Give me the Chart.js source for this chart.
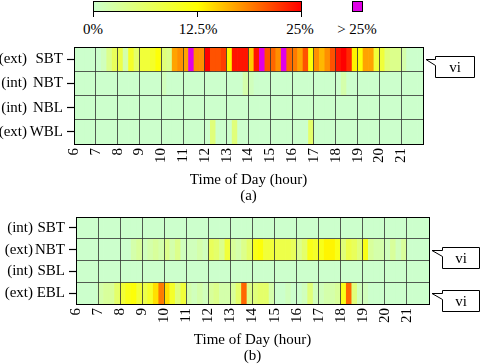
<!DOCTYPE html>
<html>
<head>
<meta charset="utf-8">
<script src="https://cdn.jsdelivr.net/npm/chart.js@4/dist/chart.umd.min.js"></script>
<style>
  body { margin: 0; width: 481px; height: 364px; background: #fff; position: relative; overflow: hidden;
         font-family: 'Liberation Serif', 'Times New Roman', serif; color: #000; }
  canvas { position: absolute; left: 0; }
  #chartA { top: 34px; }
  #chartB { top: 204px; }
  .cbar { position: absolute; left: 93px; top: 1px; width: 209px; height: 11px; box-sizing: border-box; border: 1px solid #000; }
  .tick { position: absolute; top: 11px; width: 1px; height: 6px; background: #000; }
  .lbl { position: absolute; top: 20px; font-size: 15px; line-height: 18px; transform: translateX(-50%); white-space: nowrap; }
  .over { position: absolute; left: 352px; top: 1px; width: 11px; height: 11px; box-sizing: border-box; border: 1px solid #000; }
</style>
</head>
<body>
<div class="cbar" id="cbar"></div>
<div class="tick" style="left:93px"></div>
<div class="tick" style="left:197px"></div>
<div class="tick" style="left:301px"></div>
<div class="lbl" style="left:93px">0%</div>
<div class="lbl" style="left:198px">12.5%</div>
<div class="lbl" style="left:300px">25%</div>
<div class="over" id="overBox"></div>
<div class="lbl" style="left:357px">&gt; 25%</div>

<canvas id="chartA" width="481" height="170"></canvas>
<canvas id="chartB" width="481" height="160"></canvas>

<script>
// Axis ticks (hours) and colour scale
const hours = [6, 7, 8, 9, 10, 11, 12, 13, 14, 15, 16, 17, 18, 19, 20, 21, 22];
const scaleStops = [0, 12.5, 25];
const stopColors = [[204, 255, 204], [255, 255, 0], [255, 0, 0]];
const overColor = '#e000e6';

// Panel (a) rows
const rowsA = ['SBT', 'NBT', 'NBL', 'WBL'];
const prefixA = ['(ext)', '(int)', '(int)', '(ext)'];
// Panel (b) rows
const rowsB = ['SBT', 'NBT', 'SBL', 'EBL'];
const prefixB = ['(int)', '(ext)', '(int)', '(ext)'];

// 15 minute bins from 6:00 to 22:00, values in %
const aSBT = [
  0, 0, 0, 0,   0, 1, 4, 7,   8, 2, 10, 6,   9, 9, 10, 12,
  5, 4, 17, 18,   17, 30, 18, 18,   25, 21, 21, 22,   13, 24, 24, 24,
  15, 24, 28, 21,   20, 18, 30, 20,   19, 17, 21, 12,   18, 16, 18, 21,
  24, 25, 23, 13,   12, 17, 17, 9,   9, 5, 4, 4,   2, 0, 0, 0
];
const aNBT = [
  0, 0, 0, 0,   0, 0, 0, 0,   0, 0, 0, 0,   0, 0, 0, 0,
  1, 0, 0, 0,   0, 0, 0, 0,   0, 0, 0, 0,   0, 0, 0, 2,
  1, 0, 0, 0,   0, 0, 0, 0,   0, 0, 0, 0,   0, 0, 0, 0,
  0, 2, 0, 0,   0, 0, 0, 0,   0, 0, 0, 0,   0, 0, 0, 0
];
const aNBL = [
  0, 0, 0, 0,   0, 0, 0, 0,   0, 0, 0, 0,   0, 0, 0, 0,
  0, 0, 0, 0,   0, 0, 0, 0,   0, 0, 0, 0,   0, 0, 0, 0,
  0, 0, 0, 0,   0, 0, 0, 0,   0, 0, 0, 0,   0, 0, 0, 0,
  0, 0, 0, 0,   0, 0, 0, 0,   0, 0, 0, 0,   0, 0, 0, 0
];
const aWBL = [
  0, 0, 0, 0,   0, 0, 0, 0,   0, 0, 0, 0,   0, 0, 0, 0,
  0, 0, 0, 0,   0, 0, 0, 0,   0, 5, 0, 0,   0, 5, 0, 0,
  0, 0, 0, 0,   0, 0, 0, 0,   0, 0, 0, 6,   0, 0, 0, 0,
  0, 0, 0, 0,   0, 0, 0, 0,   0, 0, 0, 0,   0, 0, 0, 0
];
const bSBT = [
  0, 0, 0, 0,   0, 0, 0, 0,   0, 0, 0, 0,   0, 0, 0, 0,
  0, 0, 0, 0,   0, 0, 0, 0,   0, 0, 0, 0,   0, 0, 0, 0,
  0, 0, 0, 0,   0, 0, 0, 0,   0, 0, 0, 0,   0, 0, 0, 0,
  0, 0, 0, 0,   0, 0, 0, 0,   0, 0, 0, 0,   0, 0, 0, 0
];
const bNBT = [
  0, 0, 0, 0,   0, 0, 0, 0,   0, 0, 2, 3,   1, 2, 3, 2,
  4, 2, 4, 1,   1, 1, 2, 1,   7, 6, 4, 9,   3, 2, 4, 6,
  11, 12, 9, 9,   8, 8, 8, 7,   4, 6, 11, 10,   11, 13, 13, 11,
  5, 8, 7, 5,   11, 3, 2, 2,   1, 3, 1, 3,   0, 0, 0, 0
];
const bSBL = [
  0, 0, 0, 0,   0, 0, 0, 0,   0, 0, 0, 0,   0, 0, 0, 0,
  0, 0, 0, 0,   0, 0, 0, 0,   0, 0, 0, 0,   0, 0, 0, 0,
  0, 0, 0, 0,   0, 0, 0, 0,   0, 0, 0, 0,   0, 0, 0, 0,
  0, 0, 0, 0,   0, 0, 0, 0,   0, 0, 0, 0,   0, 0, 0, 0
];
const bEBL = [
  0, 0, 0, 0,   2, 3, 3, 6,   9, 11, 12, 9,   8, 10, 14, 19,
  14, 10, 5, 9,   2, 1, 2, 1,   3, 4, 2, 2,   3, 6, 20, 4,
  5, 6, 6, 2,   0, 0, 1, 0,   0, 1, 5, 1,   1, 2, 2, 3,
  11, 20, 5, 1,   1, 0, 0, 0,   0, 0, 0, 0,   0, 0, 0, 0
];

const binHours = 0.25;
const serif = "'Liberation Serif', 'Times New Roman', serif";
const gridColor = 'rgba(50, 50, 50, 0.8)';

Chart.defaults.color = '#000';
Chart.defaults.font.family = serif;
Chart.defaults.font.size = 15;

function rgb(c) {
    return 'rgb(' + c.map(Math.round).join(',') + ')';
}

function heatColor(v) {
    if (v > scaleStops[scaleStops.length - 1]) return overColor;
    for (let i = 1; i < scaleStops.length; i++) {
        if (v <= scaleStops[i]) {
            const t = Math.max(0, (v - scaleStops[i - 1]) / (scaleStops[i] - scaleStops[i - 1]));
            const a = stopColors[i - 1], b = stopColors[i];
            return rgb(a.map((x, k) => x + (b[k] - x) * t));
        }
    }
    return rgb(stopColors[0]);
}

// Legend colour bar
document.getElementById('cbar').style.background = 'linear-gradient(to right, ' +
    stopColors.map((c, i) => rgb(c) + ' ' + (scaleStops[i] / scaleStops[scaleStops.length - 1] * 100) + '%').join(', ') + ')';
document.getElementById('overBox').style.background = overColor;

// Black frame round the plot area
const framePlugin = {
    id: 'frame',
    afterDraw(chart) {
        const {ctx, chartArea: a} = chart;
        ctx.save();
        ctx.strokeStyle = '#000';
        ctx.lineWidth = 1;
        ctx.strokeRect(Math.round(a.left) + 0.5, Math.round(a.top) + 0.5,
            Math.round(a.right - a.left), Math.round(a.bottom - a.top));
        ctx.restore();
    }
};

// "vi" speech bubbles to the right of marked rows
const calloutPlugin = {
    id: 'callouts',
    afterDraw(chart, args, opts) {
        const {ctx, chartArea, scales} = chart;
        (opts.rows || []).forEach(row => {
            const cy = scales.y.getPixelForValue(row);
            const tipX = chartArea.right + opts.tip;
            const tipY = Math.round(cy) + 0.5;
            const bx = Math.round(chartArea.right + opts.gap) + 0.5;
            const by = Math.round(cy - 3) + 0.5;
            const w = opts.width, h = 21;
            ctx.save();
            ctx.beginPath();
            ctx.moveTo(bx, by);
            ctx.lineTo(bx + w, by);
            ctx.lineTo(bx + w, by + h);
            ctx.lineTo(bx, by + h);
            ctx.lineTo(bx, by + 9);
            ctx.lineTo(tipX, tipY);
            ctx.lineTo(bx, by + 3);
            ctx.closePath();
            ctx.fillStyle = '#fff';
            ctx.fill();
            ctx.strokeStyle = '#000';
            ctx.lineWidth = 1;
            ctx.stroke();
            ctx.fillStyle = '#000';
            ctx.font = '15px ' + serif;
            ctx.textAlign = 'center';
            ctx.textBaseline = 'middle';
            ctx.fillText(opts.text, bx + w / 2, by + h / 2 + 1);
            ctx.restore();
        });
    }
};

function rowDataset(name, values) {
    return {
        data: values.map((v, i) => ({x: [hours[0] + i * binHours, hours[0] + (i + 1) * binHours], y: name, v: v})),
        backgroundColor: c => heatColor(c.raw ? c.raw.v : 0),
        borderWidth: 0,
        grouped: false,
        categoryPercentage: 1,
        barPercentage: 1
    };
}

function buildPanel(canvasId, rows, prefixes, series, cfg) {
    return new Chart(document.getElementById(canvasId), {
        type: 'bar',
        data: {
            labels: rows,
            datasets: rows.map((name, i) => rowDataset(name, series[i]))
        },
        plugins: [framePlugin, calloutPlugin],
        options: {
            responsive: false,
            animation: false,
            indexAxis: 'y',
            layout: {padding: {top: cfg.top, right: cfg.right, left: 0, bottom: 0}},
            plugins: {
                legend: {display: false},
                tooltip: {enabled: false},
                callouts: {rows: cfg.callouts, text: 'vi', tip: 3, gap: cfg.gap, width: cfg.boxWidth}
            },
            scales: {
                x: {
                    type: 'linear',
                    min: hours[0],
                    max: hours[hours.length - 1],
                    afterBuildTicks: s => { s.ticks = hours.map(h => ({value: h})); },
                    afterFit: s => { s.height = cfg.xHeight; },
                    grid: {color: gridColor, drawTicks: false, z: 1},
                    border: {display: false},
                    ticks: {
                        autoSkip: false,
                        minRotation: 90,
                        maxRotation: 90,
                        padding: 4,
                        callback: v => (v === hours[hours.length - 1] ? '' : String(v))
                    },
                    title: {
                        display: true,
                        text: ['Time of Day (hour)', cfg.caption],
                        font: {size: 15, lineHeight: 1.07},
                        padding: {top: 0, bottom: cfg.titlePad}
                    }
                },
                y: {
                    type: 'category',
                    offset: true,
                    afterFit: s => { s.width = 0; },
                    grid: {offset: true, color: gridColor, drawTicks: false, z: 1},
                    border: {display: false},
                    ticks: {display: false}
                },
                // row names with their tick marks
                yNames: {
                    type: 'category',
                    position: 'left',
                    labels: rows,
                    offset: true,
                    weight: 1,
                    afterFit: s => { s.width = cfg.namesWidth; },
                    grid: {offset: false, drawOnChartArea: false, color: '#000', tickLength: 7, tickWidth: 1.2, z: 1},
                    border: {display: false},
                    ticks: {padding: 4}
                },
                // (ext) / (int) column
                yPrefix: {
                    type: 'category',
                    position: 'left',
                    labels: prefixes,
                    offset: true,
                    weight: 2,
                    afterFit: s => { s.width = cfg.prefixWidth; },
                    grid: {display: false, drawTicks: false},
                    border: {display: false},
                    ticks: {padding: 1}
                }
            }
        }
    });
}

buildPanel('chartA', rowsA, prefixA, [aSBT, aNBT, aNBL, aWBL], {
    top: 12, right: 58, xHeight: 60, caption: '(a)', titlePad: 0,
    namesWidth: 46, prefixWidth: 28, callouts: [0], gap: 12, boxWidth: 39
});
buildPanel('chartB', rowsB, prefixB, [bSBT, bNBT, bSBL, bEBL], {
    top: 2, right: 52, xHeight: 60, caption: '(b)', titlePad: 0,
    namesWidth: 42, prefixWidth: 34, callouts: [1, 3], gap: 13, boxWidth: 37
});
</script>
</body>
</html>
